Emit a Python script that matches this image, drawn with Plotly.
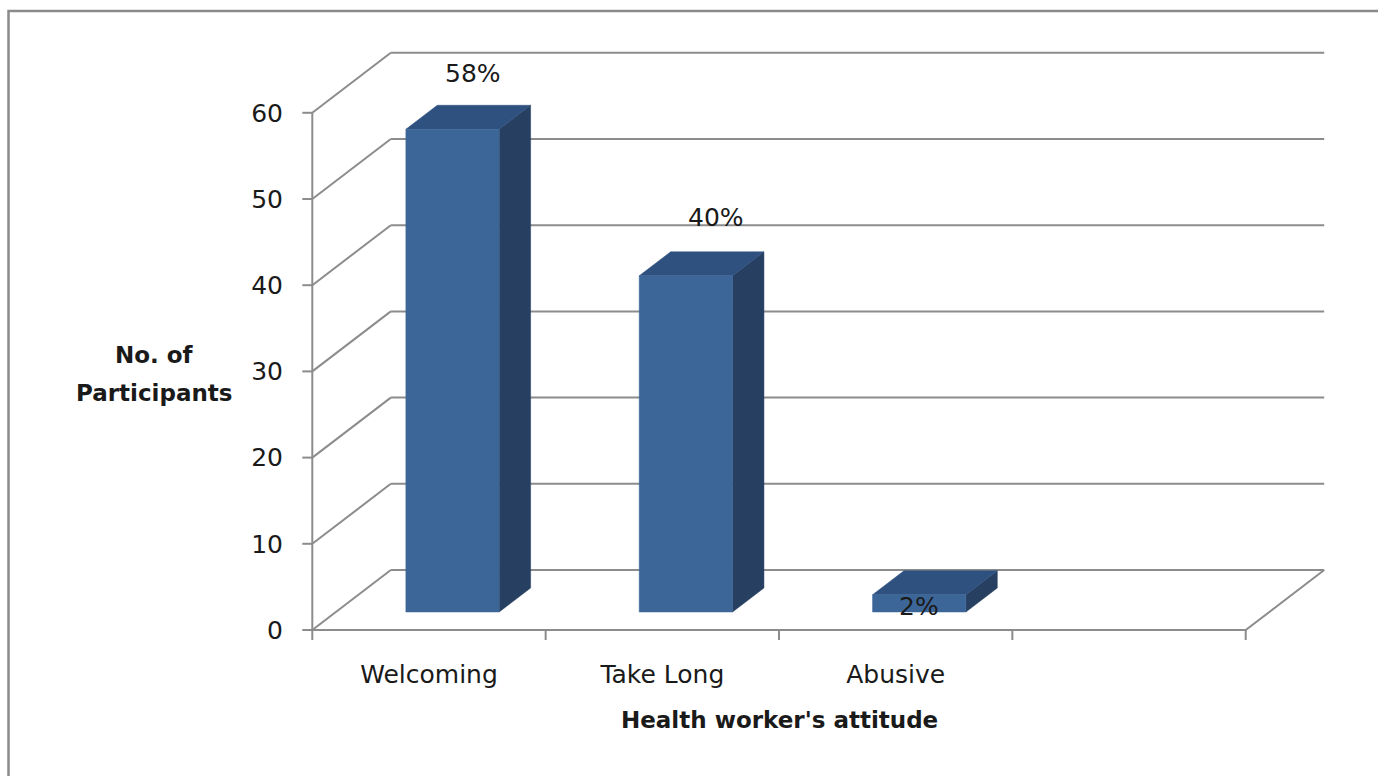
import plotly.graph_objects as go

# ---- data -------------------------------------------------------------
categories = ["Welcoming", "Take Long", "Abusive"]
participants = [56, 39, 2]
percent_labels = ["58%", "40%", "2%"]
y_ticks = [0, 10, 20, 30, 40, 50, 60]
n_slots = 4  # slots along the floor; the last one stays empty

# ---- page geometry (pixels) ------------------------------------------
W, H = 1378, 776
ORIGIN_PX = (312.3, 630.0)       # front corner of the floor (x = 0, y = 0)
SLOT_PX = 233.35                 # width of one category slot
UNIT_PX = 8.62                   # pixels per participant
DEPTH_PX = (78.5, -60.0)         # oblique offset from front plane to back wall
PLOT_L, PLOT_T, PLOT_R, PLOT_B = 296, 40, 1342, 646

DX = DEPTH_PX[0] / SLOT_PX       # depth offset in axis units
DY = -DEPTH_PX[1] / UNIT_PX
x_range = [(PLOT_L - ORIGIN_PX[0]) / SLOT_PX, (PLOT_R - ORIGIN_PX[0]) / SLOT_PX]
y_range = [(ORIGIN_PX[1] - PLOT_B) / UNIT_PX, (ORIGIN_PX[1] - PLOT_T) / UNIT_PX]

BAR_W = 0.4                      # bar width as a fraction of the slot
D_FRONT, D_BACK = 0.3, 0.7       # bar depth range (0 = front, 1 = back wall)

GRID = "#8c8c8c"
FRONT = "#3D6698"
TOP = "#2F5180"
SIDE = "#273F61"
TEXT = "#1a1a1a"
FONT = "DejaVu Sans"
TICK_SIZE = 25


def paper(px, py):
    return ((px - PLOT_L) / (PLOT_R - PLOT_L), (PLOT_B - py) / (PLOT_B - PLOT_T))


def proj(x, y, d):
    """Oblique projection of (x, y, depth) onto the front plane."""
    return x + d * DX, y + d * DY


fig = go.Figure()

# ---- walls and floor ---------------------------------------------------
wx, wy = [], []
top_slot = n_slots
for v in y_ticks:
    # back-wall gridline
    for x in (0, top_slot):
        px_, py_ = proj(x, v, 1)
        wx.append(px_); wy.append(py_)
    wx.append(None); wy.append(None)
    # side-wall diagonal
    for d in (0, 1):
        px_, py_ = proj(0, v, d)
        wx.append(px_); wy.append(py_)
    wx.append(None); wy.append(None)
# floor front edge and right edge
for x, y, d in [(0, 0, 0), (top_slot, 0, 0), (top_slot, 0, 1)]:
    px_, py_ = proj(x, y, d)
    wx.append(px_); wy.append(py_)
wx.append(None); wy.append(None)
# front vertical axis
wx += [0, 0, None]; wy += [0, y_ticks[-1], None]
# tick marks on the vertical axis
tick_len_x = 10 / SLOT_PX
for v in y_ticks:
    wx += [-tick_len_x, 0, None]; wy += [v, v, None]
# tick marks on the floor edge
tick_len_y = 10 / UNIT_PX
for s in range(n_slots + 1):
    wx += [s, s, None]; wy += [0, -tick_len_y, None]

fig.add_trace(go.Scatter(x=wx, y=wy, mode="lines",
                         line=dict(color=GRID, width=2),
                         hoverinfo="skip", showlegend=False))

# ---- 3D bars -------------------------------------------------------------
fx, fy, tx, ty, sx, sy = [], [], [], [], [], []
for i, h in enumerate(participants):
    x0 = i + (1 - BAR_W) / 2
    x1 = x0 + BAR_W
    front = [proj(x0, 0, D_FRONT), proj(x1, 0, D_FRONT),
             proj(x1, h, D_FRONT), proj(x0, h, D_FRONT)]
    top = [proj(x0, h, D_FRONT), proj(x1, h, D_FRONT),
           proj(x1, h, D_BACK), proj(x0, h, D_BACK)]
    side = [proj(x1, 0, D_FRONT), proj(x1, 0, D_BACK),
            proj(x1, h, D_BACK), proj(x1, h, D_FRONT)]
    for poly, xs, ys in ((front, fx, fy), (top, tx, ty), (side, sx, sy)):
        for p in poly + [poly[0]]:
            xs.append(p[0]); ys.append(p[1])
        xs.append(None); ys.append(None)

for xs, ys, col in ((sx, sy, SIDE), (tx, ty, TOP), (fx, fy, FRONT)):
    fig.add_trace(go.Scatter(x=xs, y=ys, mode="lines", fill="toself",
                             fillcolor=col, line=dict(color=col, width=0.5),
                             hoverinfo="skip", showlegend=False))

# ---- percentage labels --------------------------------------------------
label_dx = [0.69, 0.73, 0.60]
label_dy = [8.6, 8.8, 0.7]
for i, (h, lab) in enumerate(zip(participants, percent_labels)):
    fig.add_annotation(x=i + label_dx[i], y=h + label_dy[i], text=lab,
                       showarrow=False, xref="x", yref="y",
                       font=dict(family=FONT, size=TICK_SIZE, color=TEXT))

# ---- axis titles -------------------------------------------------------
for txt, (px_, py_) in (("<b>No. of</b>", (154, 355)),
                        ("<b>Participants</b>", (154, 393)),
                        ("<b>Health worker's attitude</b>", (779, 720))):
    ax, ay = paper(px_, py_)
    fig.add_annotation(x=ax, y=ay, xref="paper", yref="paper", text=txt,
                       showarrow=False, xanchor="center", yanchor="middle",
                       font=dict(family=FONT, size=23, color=TEXT))

# ---- outer frame -------------------------------------------------------
bx0, by0 = paper(8.5, 11)
bx1, by1 = paper(W + 20, H + 20)
fig.add_shape(type="rect", xref="paper", yref="paper",
              x0=bx0, y0=by1, x1=bx1, y1=by0,
              line=dict(color="#8a8a8a", width=2.5), layer="above")

fig.update_layout(
    width=W, height=H,
    margin=dict(l=PLOT_L, r=W - PLOT_R, t=PLOT_T, b=H - PLOT_B, pad=0),
    paper_bgcolor="white", plot_bgcolor="white",
    xaxis=dict(range=x_range, showgrid=False, zeroline=False, showline=False,
               tickmode="array", tickvals=[i + 0.5 for i in range(len(categories))],
               ticktext=categories, ticks="", ticklabelstandoff=11,
               tickfont=dict(family=FONT, size=TICK_SIZE, color=TEXT), fixedrange=True),
    yaxis=dict(range=y_range, showgrid=False, zeroline=False, showline=False,
               tickmode="array", tickvals=y_ticks, ticks="",
               ticklabelstandoff=12,
               tickfont=dict(family=FONT, size=TICK_SIZE, color=TEXT), fixedrange=True),
    showlegend=False,
)

fig.write_html("out.html")
